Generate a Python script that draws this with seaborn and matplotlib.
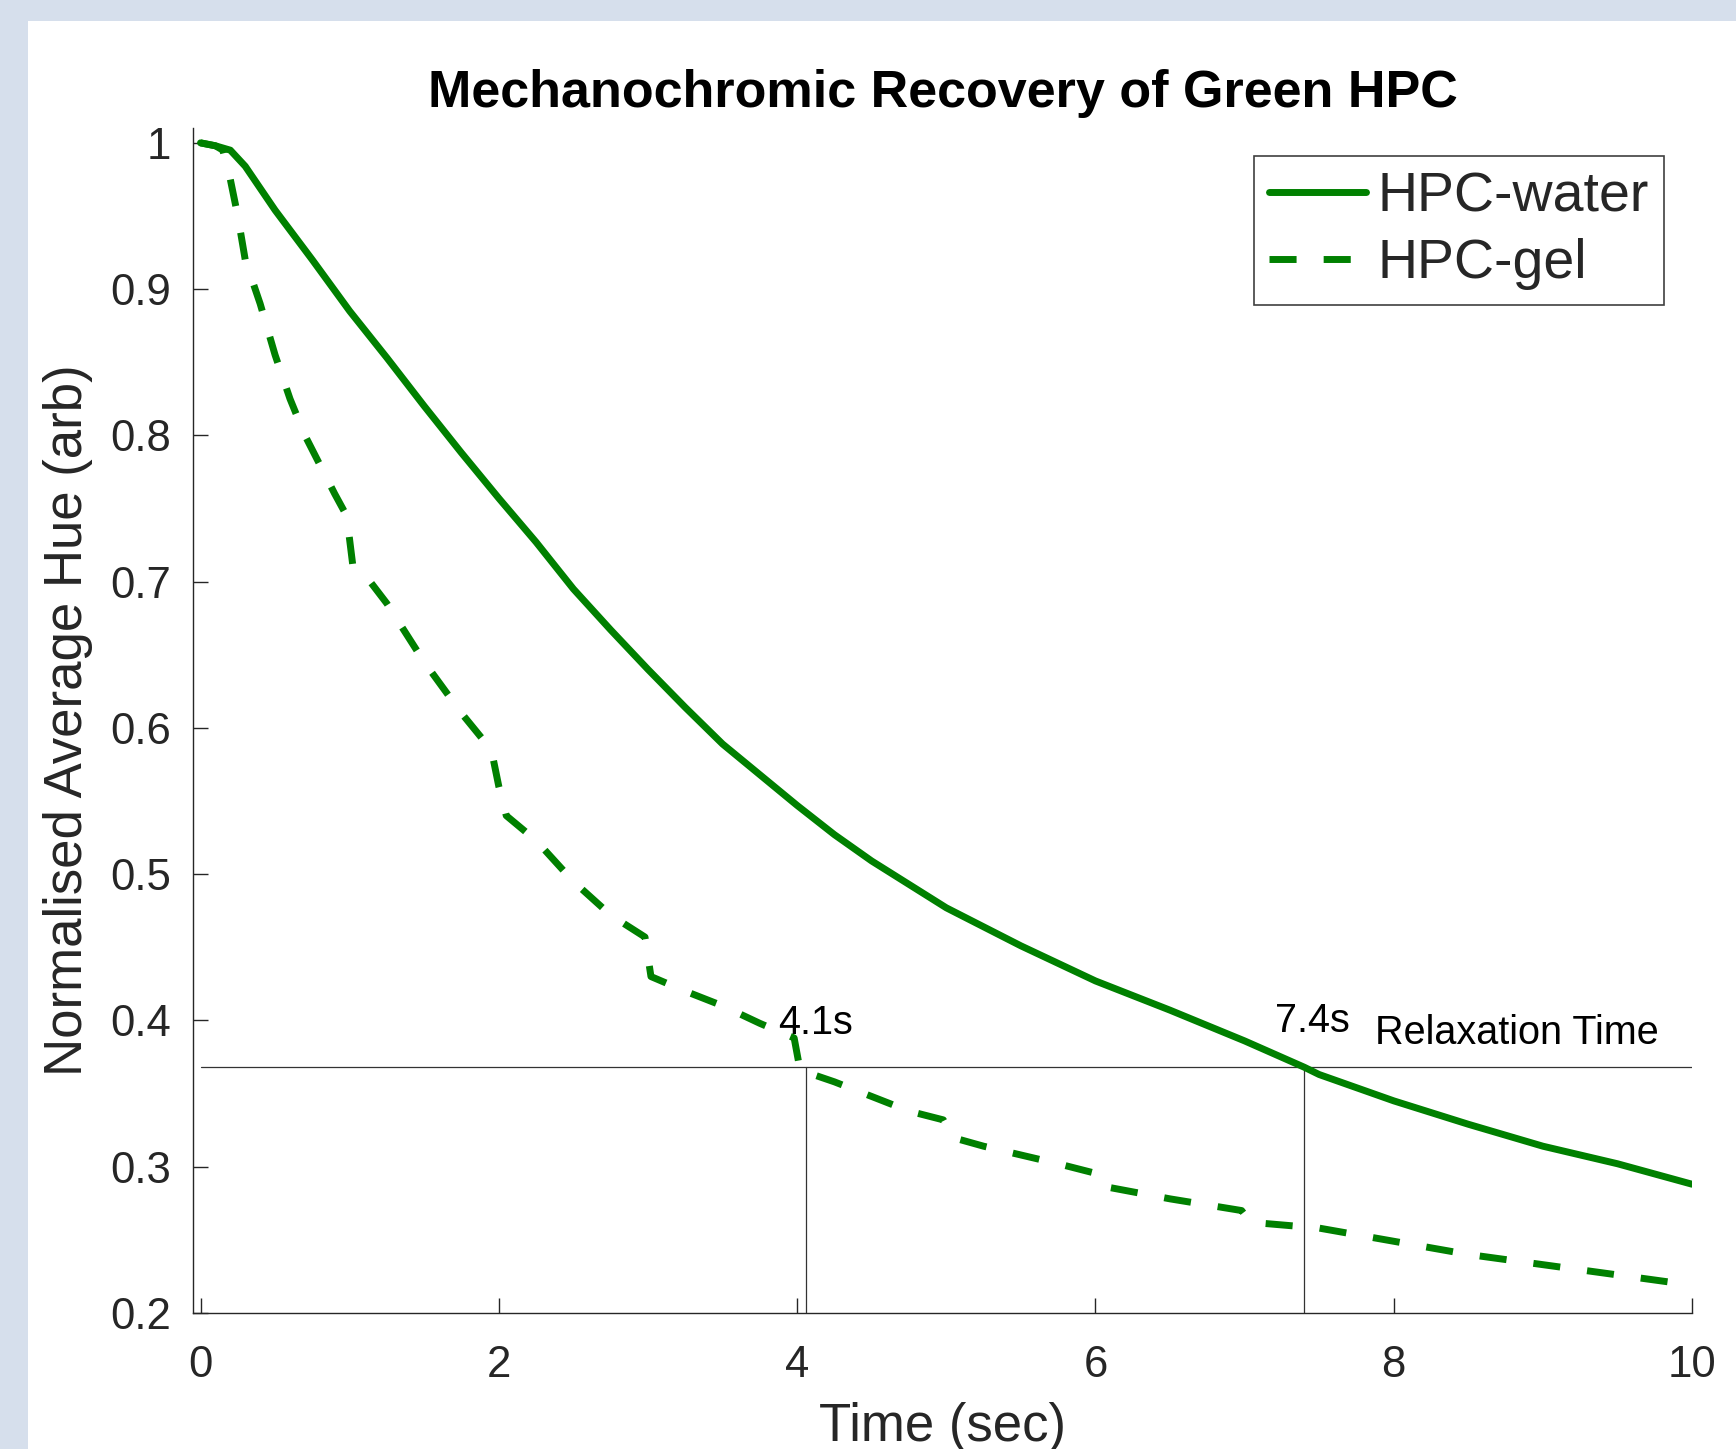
import matplotlib
matplotlib.use("Agg")
import matplotlib.pyplot as plt
import numpy as np
import pandas as pd
import seaborn as sns
from matplotlib.patches import Rectangle
from matplotlib.ticker import FuncFormatter

# HPC in water: time (s) vs normalised hue
water_t = [0.0, 0.1, 0.2, 0.3, 0.4, 0.5, 0.75, 1.0, 1.25, 1.5, 1.75, 2.0,
           2.25, 2.5, 2.75, 3.0, 3.25, 3.5, 3.75, 4.0, 4.25, 4.5, 4.75, 5.0,
           5.5, 6.0, 6.5, 7.0, 7.4, 7.5, 8.0, 8.5, 9.0, 9.5, 10.0]
water_hue = [1.0, 0.998, 0.995, 0.984, 0.969, 0.954, 0.920, 0.885, 0.853,
             0.820, 0.788, 0.757, 0.727, 0.695, 0.667, 0.640, 0.614, 0.589,
             0.568, 0.547, 0.527, 0.509, 0.493, 0.477, 0.451, 0.427, 0.407,
             0.386, 0.368, 0.363, 0.345, 0.329, 0.314, 0.302, 0.288]

# HPC gel: steps at each whole second
gel_t = [0.0, 0.1, 0.15, 0.2, 0.25, 0.3, 0.4, 0.5, 0.6, 0.7, 0.8, 0.9, 0.98,
         1.02, 1.1, 1.25, 1.5, 1.75, 1.95, 2.0, 2.05, 2.25, 2.5, 2.75, 2.98,
         3.02, 3.25, 3.5, 3.75, 3.98, 4.02, 4.25, 4.5, 4.75, 4.98, 5.04, 5.25,
         5.5, 5.75, 5.98, 6.03, 6.5, 6.98, 7.04, 7.5, 8.0, 8.5, 9.0, 9.5, 10.0]
gel_hue = [1.0, 0.998, 0.995, 0.975, 0.95, 0.92, 0.89, 0.855, 0.825, 0.80,
           0.78, 0.76, 0.745, 0.712, 0.705, 0.685, 0.645, 0.610, 0.585, 0.56,
           0.54, 0.523, 0.495, 0.472, 0.457, 0.43, 0.42, 0.41, 0.398, 0.388,
           0.366, 0.358, 0.348, 0.338, 0.332, 0.32, 0.314, 0.308, 0.302, 0.296,
           0.287, 0.278, 0.270, 0.262, 0.258, 0.249, 0.240, 0.233, 0.226, 0.219]

relax_times = [4.06, 7.4]
relax_labels = ["4.1s", "7.4s"]
relax_level = 1 / np.e

x_ticks = [0, 2, 4, 6, 8, 10]
y_ticks = [0.2, 0.3, 0.4, 0.5, 0.6, 0.7, 0.8, 0.9, 1.0]

GREEN = "#008000"
INK = "#262626"

sns.set_theme(style="ticks")
plt.rcParams["font.family"] = ["Liberation Sans", "DejaVu Sans"]

fig = plt.figure(figsize=(17.36, 14.49), dpi=100)
fig.patch.set_facecolor("#D6DFEC")
fig.add_artist(Rectangle((28 / 1736, 0), 1, (1449 - 21) / 1449,
                         transform=fig.transFigure, facecolor="white",
                         edgecolor="none", zorder=0))
ax = fig.add_axes([0.1112, 0.0939, 0.8635, 0.8178])
ax.set_facecolor("white")

water = pd.DataFrame({"t": water_t, "hue": water_hue})
gel = pd.DataFrame({"t": gel_t, "hue": gel_hue})

# relaxation time markers
ax.plot([0, 10], [relax_level, relax_level], color="#333333", lw=0.9, zorder=1)
for tx in relax_times:
    ax.plot([tx, tx], [0.2, relax_level], color="#333333", lw=0.9, zorder=1)

sns.lineplot(data=water, x="t", y="hue", ax=ax, color=GREEN, lw=5,
             estimator=None, sort=False, label="HPC-water", zorder=3)
sns.lineplot(data=gel, x="t", y="hue", ax=ax, color=GREEN, lw=5,
             estimator=None, sort=False, label="HPC-gel", zorder=3,
             linestyle=(0, (3.9, 3.9)))

ax.text(3.874, 0.391, relax_labels[0], fontsize=28.5, color="black", va="baseline")
ax.text(7.205, 0.392, relax_labels[1], fontsize=28.5, color="black", va="baseline")
ax.text(7.875, 0.384, "Relaxation Time", fontsize=28.5, color="black", va="baseline")

ax.set_xlim(-0.05, 10)
ax.set_ylim(0.2, 1.0102)
ax.set_xticks(x_ticks)
ax.set_yticks(y_ticks)
ax.yaxis.set_major_formatter(FuncFormatter(lambda v, p: f"{v:g}"))
ax.xaxis.set_major_formatter(FuncFormatter(lambda v, p: f"{v:g}"))
ax.tick_params(direction="in", length=11, width=1.0, color=INK,
               labelsize=31.5, labelcolor=INK)
ax.tick_params(axis="x", pad=23)
ax.tick_params(axis="y", pad=16)

sns.despine(ax=ax)
for side in ("left", "bottom"):
    ax.spines[side].set_color(INK)
    ax.spines[side].set_linewidth(1.0)

ax.set_xlabel("Time (sec)", fontsize=38, color=INK)
ax.set_ylabel("Normalised Average Hue (arb)", fontsize=38, color=INK)
ax.xaxis.set_label_coords(0.5, -0.075)
ax.yaxis.set_label_coords(-0.067, 0.5)
ax.set_title("Mechanochromic Recovery of Green HPC", fontsize=37.5,
             fontweight="bold", color="black", y=1.0175, pad=0, va="baseline")

handles, labels = ax.get_legend_handles_labels()
leg = ax.legend(handles[:2], labels[:2], loc="upper right",
                bbox_to_anchor=(0.981, 0.976), fontsize=40, frameon=True,
                fancybox=False, framealpha=1, edgecolor="#404040",
                handlelength=1.75, handletextpad=0.2, borderpad=0.27,
                labelspacing=0.27, borderaxespad=0)
leg.get_frame().set_linewidth(1.2)

fig.savefig("out.png", dpi=100)
